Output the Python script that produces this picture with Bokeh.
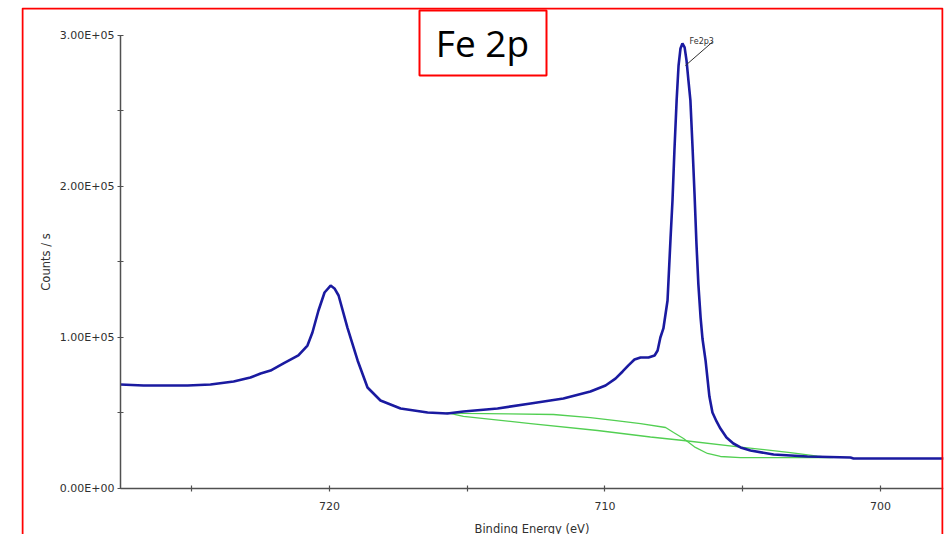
from bokeh.plotting import figure
from bokeh.models import Range1d, FixedTicker, BoxAnnotation, Label
from bokeh.embed import file_html
from bokeh.resources import INLINE

# ---- data ----
energy = [727.59, 726.75, 725.15, 724.32, 723.48, 722.87, 722.50, 722.14, 721.67, 721.13,
          720.80, 720.62, 720.40, 720.18, 719.96, 719.82, 719.67, 719.35, 718.98, 718.62,
          718.15, 717.42, 716.44, 715.72, 715.14, 713.90, 712.70, 711.51, 710.53, 709.98,
          709.62, 709.36, 709.15, 708.93, 708.71, 708.42, 708.20, 708.09, 707.99, 707.88,
          707.73, 707.62, 707.55, 707.48, 707.40, 707.33, 707.26, 707.19, 707.11, 707.04,
          706.97, 706.90, 706.82, 706.75, 706.68, 706.61, 706.53, 706.46, 706.35, 706.21,
          706.10, 705.95, 705.81, 705.59, 705.34, 705.08, 704.72, 703.88, 702.65, 701.09,
          700.98, 700.00, 697.71]
counts = [68900, 68200, 68200, 68900, 70900, 73500, 76200, 78100, 82800, 88100,
          94700, 103300, 117900, 129800, 134400, 132500, 127800, 106600, 84800, 66900,
          58300, 53000, 50300, 49700, 51000, 53000, 56300, 59600, 64200, 68200,
          72800, 77500, 81500, 85400, 86800, 86800, 88100, 91400, 100000, 106000,
          124500, 166000, 190700, 223800, 257000, 280100, 291400, 294700, 292100, 283400,
          270000, 257000, 225000, 195000, 162000, 135000, 113200, 99000, 84800, 60900,
          50300, 44400, 39700, 33800, 29800, 27200, 25200, 22500, 21200, 20500,
          19900, 19900, 19900]

shirley_energy = [715.75, 715.14, 713.50, 711.87, 710.53, 709.60, 708.71, 707.80, 707.51,
                  707.15, 706.72, 706.28, 705.81, 705.08, 701.81]
shirley_counts = [50300, 49700, 49400, 49000, 47000, 45000, 43000, 40400, 37100,
                  33100, 27200, 23200, 21200, 20500, 20500]

linear_energy = [715.75, 715.14, 712.70, 710.27, 708.35, 707.15, 705.08, 703.27, 702.29, 701.74]
linear_counts = [50300, 47700, 43000, 38400, 34100, 31800, 27400, 23800, 21400, 20500]

x_ticks = [720, 710, 700]
x_minor = [725, 715, 705]
x_axis_span = (697.713, 727.586)
y_ticks = [0, 100000, 200000, 300000]
y_minor = [50000, 150000, 250000]
y_tick_labels = ["0.00E+00", "1.00E+05", "2.00E+05", "3.00E+05"]

peak_label = "Fe2p3"
peak_label_pos = (706.93, 296000)
leader_x = [706.08, 707.08]
leader_y = [296000, 280100]

title_text = "Fe 2p"

# ---- figure: the frame is the red-bordered area, axes are placed at fixed locations ----
p = figure(width=951, height=534, output_backend="svg", toolbar_location=None,
           x_range=Range1d(731.18, 697.713), y_range=Range1d(-30464, 318542),
           min_border_left=21, min_border_right=8, min_border_top=7, min_border_bottom=0)
p.grid.visible = False
p.outline_line_color = None
p.background_fill_color = "white"
p.border_fill_color = "white"

p.xaxis.ticker = FixedTicker(ticks=x_ticks, minor_ticks=x_minor)
p.yaxis.ticker = FixedTicker(ticks=y_ticks, minor_ticks=y_minor)
p.yaxis.major_label_overrides = {t: l for t, l in zip(y_ticks, y_tick_labels)}
p.xaxis.fixed_location = y_ticks[0]
p.yaxis.fixed_location = x_axis_span[1]
p.xaxis.bounds = x_axis_span
p.yaxis.bounds = (y_ticks[0], y_ticks[-1])

axcol = "#505050"
for ax in (p.xaxis[0], p.yaxis[0]):
    ax.axis_line_color = axcol
    ax.axis_line_width = 1.5
    ax.major_tick_line_color = axcol
    ax.minor_tick_line_color = axcol
    ax.major_tick_line_width = 1.2
    ax.minor_tick_line_width = 1.2
    ax.major_tick_in = 3
    ax.major_tick_out = 3
    ax.minor_tick_in = 3
    ax.minor_tick_out = 3
    ax.major_label_text_font = "DejaVu Sans"
    ax.major_label_text_font_size = "11px"
    ax.major_label_text_color = "#303030"
    ax.axis_label_text_font = "DejaVu Sans"
    ax.axis_label_text_font_size = "11.5px"
    ax.axis_label_text_font_style = "normal"
    ax.axis_label_text_color = "#303030"

p.xaxis.axis_label = "Binding Energy (eV)"
p.xaxis.major_label_standoff = 11
p.xaxis.axis_label_standoff = 8
p.yaxis.axis_label = "Counts / s"
p.yaxis.major_label_standoff = 3
p.yaxis.axis_label_standoff = 4

# background lines (green) and spectrum (blue)
p.line(shirley_energy, shirley_counts, line_color="#52cf52", line_width=1.3)
p.line(linear_energy, linear_counts, line_color="#52cf52", line_width=1.3)
p.line(energy, counts, line_color="#1a1aa0", line_width=2.6)

# peak annotation
p.segment(x0=[leader_x[0]], y0=[leader_y[0]], x1=[leader_x[1]], y1=[leader_y[1]],
          line_color="#303030", line_width=1)
p.add_layout(Label(x=peak_label_pos[0], y=peak_label_pos[1], text=peak_label,
                   text_font="DejaVu Sans", text_font_size="8px", text_color="#303030",
                   text_baseline="alphabetic", text_align="left"))

# outer red frame and title box
p.add_layout(BoxAnnotation(left=22, right=942, top=8, bottom=560,
                           left_units="canvas", right_units="canvas",
                           top_units="canvas", bottom_units="canvas",
                           fill_alpha=0, fill_color=None, line_color="red", line_width=2,
                           line_alpha=1))
p.add_layout(BoxAnnotation(left=419, right=546, top=10, bottom=75,
                           left_units="canvas", right_units="canvas",
                           top_units="canvas", bottom_units="canvas",
                           fill_alpha=0, fill_color=None, line_color="red", line_width=2,
                           line_alpha=1))
p.add_layout(Label(x=482, y=42, x_units="canvas", y_units="canvas", text=title_text,
                   text_font="Open Sans", text_font_size="37px", text_color="black",
                   text_align="center", text_baseline="alphabetic"))

open("out.html", "w").write(file_html(p, INLINE))
